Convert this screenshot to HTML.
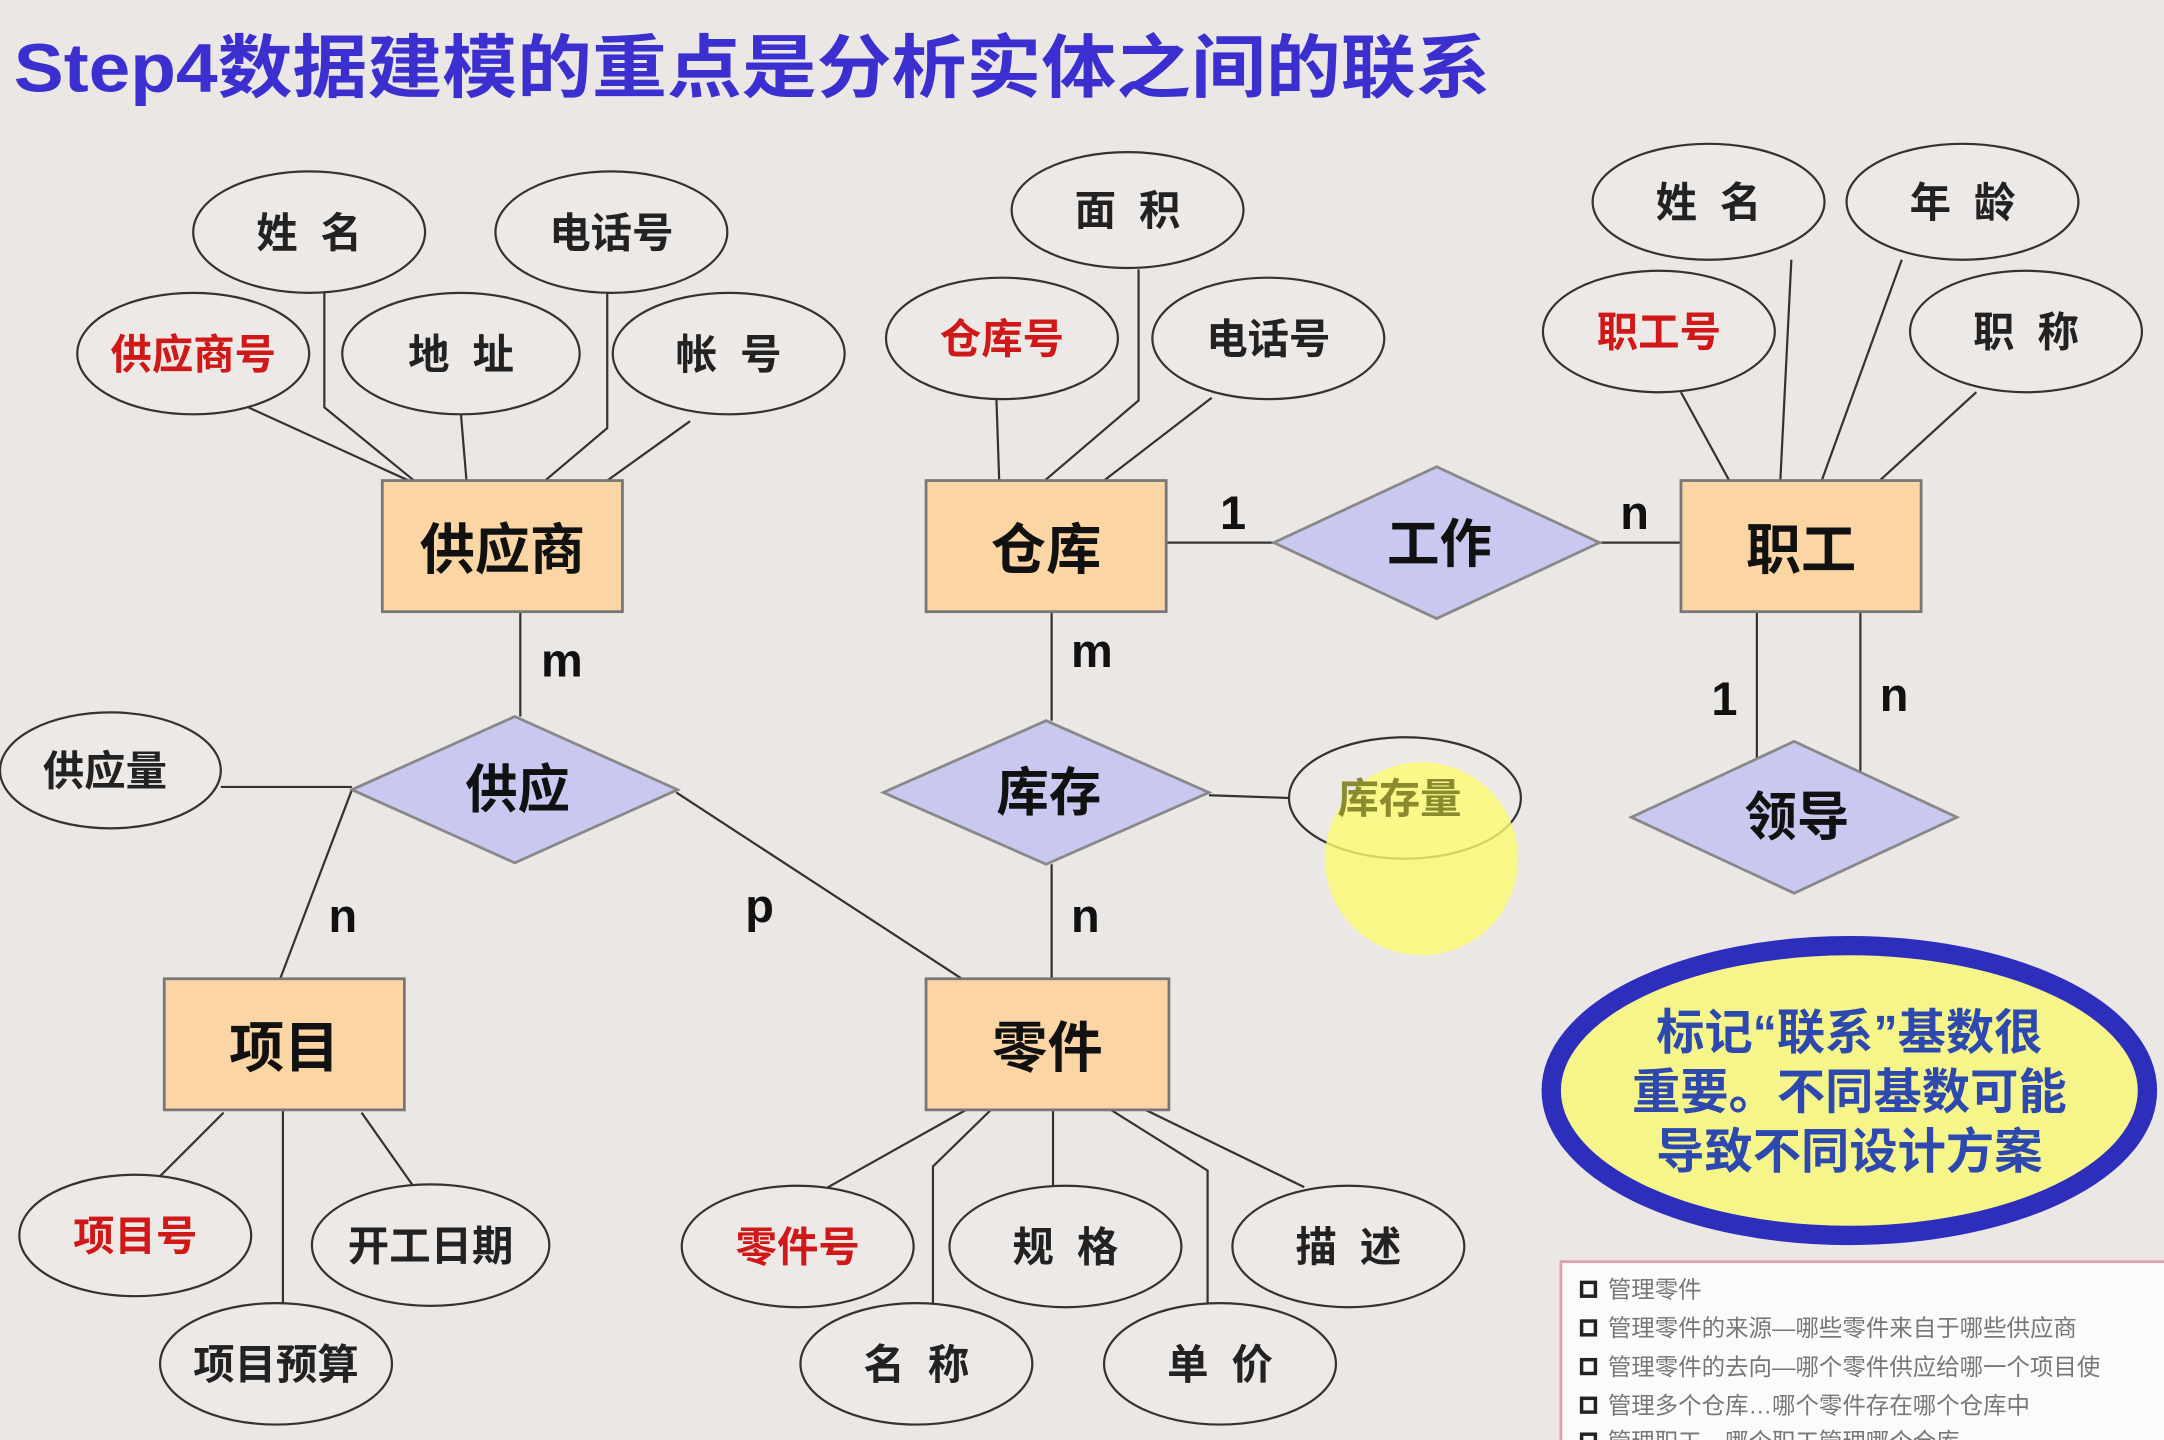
<!DOCTYPE html>
<html><head><meta charset="utf-8"><style>
html,body{margin:0;padding:0;background:#ebe7e5;}
svg{display:block}
text{font-family:"Liberation Sans","Noto Sans CJK SC",sans-serif;}
</style></head><body>
<svg width="2164" height="1440" viewBox="0 0 1568 1043" xmlns="http://www.w3.org/2000/svg">
<rect width="1568" height="1043" fill="#ebe7e5"/>
<text x="10" y="66" font-size="50" font-weight="bold" fill="#3b30cf" textLength="1070" lengthAdjust="spacingAndGlyphs">Step4数据建模的重点是分析实体之间的联系</text>
<g stroke="#333" stroke-width="1.6" fill="none">
<line x1="180" y1="295" x2="296" y2="348"/>
<polyline points="235,212 235,295 300,348"/>
<line x1="334" y1="300" x2="338" y2="348"/>
<polyline points="440,212 440,310 395,348"/>
<line x1="500" y1="305" x2="440" y2="348"/>
<line x1="722" y1="289" x2="724" y2="348"/>
<polyline points="825,195 825,290 757,348"/>
<line x1="878" y1="288" x2="800" y2="348"/>
<line x1="1218" y1="284" x2="1253" y2="348"/>
<line x1="1298" y1="188" x2="1290" y2="348"/>
<line x1="1378" y1="188" x2="1320" y2="348"/>
<line x1="1432" y1="284" x2="1362" y2="348"/>
<line x1="845" y1="393" x2="923" y2="393"/>
<line x1="1159" y1="393" x2="1218" y2="393"/>
<line x1="1273" y1="443" x2="1273" y2="550"/>
<line x1="1348" y1="443" x2="1348" y2="562"/>
<line x1="377" y1="443" x2="377" y2="519"/>
<line x1="762" y1="443" x2="762" y2="522"/>
<line x1="762" y1="626" x2="762" y2="709"/>
<line x1="876" y1="576" x2="934" y2="578"/>
<line x1="160" y1="570" x2="255" y2="570"/>
<line x1="255" y1="572" x2="203" y2="709"/>
<line x1="490" y1="574" x2="697" y2="709"/>
<line x1="162" y1="806" x2="110" y2="858"/>
<line x1="205" y1="804" x2="205" y2="946"/>
<line x1="262" y1="806" x2="300" y2="860"/>
<line x1="700" y1="804" x2="600" y2="860"/>
<polyline points="718,804 676,845 676,945"/>
<line x1="763" y1="804" x2="763" y2="860"/>
<polyline points="805,804 875,848 875,945"/>
<line x1="830" y1="804" x2="945" y2="860"/>
</g>
<g fill="#fcd5a5" stroke="#777" stroke-width="2">
<rect x="277" y="348" width="174" height="95"/>
<rect x="671" y="348" width="174" height="95"/>
<rect x="1218" y="348" width="174" height="95"/>
<rect x="119" y="709" width="174" height="95"/>
<rect x="671" y="709" width="176" height="95"/>
</g>
<g font-size="40" font-weight="bold" fill="#111" text-anchor="middle">
<text x="364" y="412">供应商</text><text x="758" y="412">仓库</text><text x="1305" y="412">职工</text>
<text x="206" y="773">项目</text><text x="759" y="773">零件</text>
</g>
<g fill="#c8c8f0" stroke="#888" stroke-width="2">
<polygon points="923,393 1041,338 1159,393 1041,448"/>
<polygon points="255,572 373,519 491,572 373,625"/>
<polygon points="640,574 758,522 876,574 758,626"/>
<polygon points="1182,592 1300,537 1418,592 1300,647"/>
</g>
<g font-size="38" font-weight="bold" fill="#111" text-anchor="middle">
<text x="1043" y="407">工作</text><text x="375" y="585">供应</text><text x="760" y="587">库存</text><text x="1302" y="605">领导</text>
</g>
<g font-size="34" font-weight="bold" fill="#111">
<text x="884" y="383">1</text><text x="1174" y="383">n</text>
<text x="1240" y="518">1</text><text x="1362" y="515">n</text>
<text x="392" y="490">m</text><text x="776" y="483">m</text>
<text x="776" y="675">n</text><text x="238" y="675">n</text><text x="540" y="668">p</text>
</g>
<g fill="#ede9e7" stroke="#333" stroke-width="1.6">
<ellipse cx="224" cy="168" rx="84" ry="44"/><ellipse cx="443" cy="168" rx="84" ry="44"/>
<ellipse cx="140" cy="256" rx="84" ry="44"/><ellipse cx="334" cy="256" rx="86" ry="44"/>
<ellipse cx="528" cy="256" rx="84" ry="44"/><ellipse cx="817" cy="152" rx="84" ry="42"/>
<ellipse cx="726" cy="245" rx="84" ry="44"/><ellipse cx="919" cy="245" rx="84" ry="44"/>
<ellipse cx="1238" cy="146" rx="84" ry="42"/><ellipse cx="1422" cy="146" rx="84" ry="42"/>
<ellipse cx="1202" cy="240" rx="84" ry="44"/><ellipse cx="1468" cy="240" rx="84" ry="44"/>
<ellipse cx="80" cy="558" rx="80" ry="42"/><ellipse cx="1018" cy="578" rx="84" ry="44"/>
<ellipse cx="98" cy="895" rx="84" ry="44"/><ellipse cx="312" cy="902" rx="86" ry="44"/>
<ellipse cx="200" cy="988" rx="84" ry="44"/><ellipse cx="578" cy="903" rx="84" ry="44"/>
<ellipse cx="772" cy="903" rx="84" ry="44"/><ellipse cx="977" cy="903" rx="84" ry="44"/>
<ellipse cx="664" cy="988" rx="84" ry="44"/><ellipse cx="884" cy="988" rx="84" ry="44"/>
</g>
<circle cx="1030" cy="622" r="70" fill="#fbfb70" opacity="0.8"/>
<g font-size="30" font-weight="bold" fill="#222" text-anchor="middle">
<text x="224" y="179" xml:space="preserve">姓  名</text><text x="443" y="179">电话号</text>
<text x="140" y="267" fill="#d01818">供应商号</text><text x="334" y="267" xml:space="preserve">地  址</text>
<text x="528" y="267" xml:space="preserve">帐  号</text><text x="817" y="163" xml:space="preserve">面  积</text>
<text x="726" y="256" fill="#d01818">仓库号</text><text x="919" y="256">电话号</text>
<text x="1238" y="157" xml:space="preserve">姓  名</text><text x="1422" y="157" xml:space="preserve">年  龄</text>
<text x="1202" y="251" fill="#d01818">职工号</text><text x="1468" y="251" xml:space="preserve">职  称</text>
<text x="76" y="569">供应量</text><text x="1014" y="589" fill="#8a8a30">库存量</text>
<text x="98" y="906" fill="#d01818">项目号</text><text x="312" y="913">开工日期</text>
<text x="200" y="999">项目预算</text><text x="578" y="914" fill="#d01818">零件号</text>
<text x="772" y="914" xml:space="preserve">规  格</text><text x="977" y="914" xml:space="preserve">描  述</text>
<text x="664" y="999" xml:space="preserve">名  称</text><text x="884" y="999" xml:space="preserve">单  价</text>
</g>
<ellipse cx="1340" cy="790" rx="216" ry="105" fill="#f5f58a" stroke="#2e2ebd" stroke-width="14"/>
<g font-size="35" font-weight="bold" fill="#2d49b0" text-anchor="middle">
<text x="1340" y="760">标记“联系”基数很</text><text x="1340" y="803">重要。不同基数可能</text><text x="1340" y="846">导致不同设计方案</text>
</g>
<rect x="1131" y="914" width="440" height="135" fill="#fbfbfb" stroke="#e0a0a8" stroke-width="2"/>
<g font-size="17" fill="#777">
<text x="1165" y="940">管理零件</text>
<text x="1165" y="968">管理零件的来源—哪些零件来自于哪些供应商</text>
<text x="1165" y="996">管理零件的去向—哪个零件供应给哪一个项目使</text>
<text x="1165" y="1024">管理多个仓库…哪个零件存在哪个仓库中</text>
<text x="1165" y="1050">管理职工…哪个职工管理哪个仓库</text>
</g>
<g fill="none" stroke="#222" stroke-width="2.5">
<rect x="1146" y="929" width="10" height="10"/><rect x="1146" y="957" width="10" height="10"/>
<rect x="1146" y="985" width="10" height="10"/><rect x="1146" y="1013" width="10" height="10"/>
<rect x="1146" y="1039" width="10" height="10"/>
</g>
</svg>
</body></html>
